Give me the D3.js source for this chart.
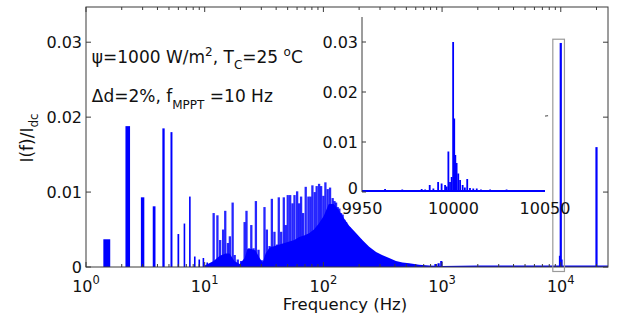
<!DOCTYPE html>
<html>
<head>
<meta charset="utf-8">
<script src="https://cdn.jsdelivr.net/npm/d3@7"></script>
<style>
  body { margin: 0; background: #fff; }
  svg { display: block; font-family: "DejaVu Sans", sans-serif; }
</style>
</head>
<body>
<div id="chart"></div>
<script>
// low frequency lines (Hz) and I(f)/Idc
let lowFreq = [1.5, 2.25, 3, 3.75, 4.5, 5.25, 6, 6.75, 7.5, 8.25, 9, 9.75, 10.5];
let lowAmp = [0.0037, 0.0188, 0.0093, 0.0081, 0.0185, 0.018, 0.0044, 0.0058, 0.0094, 0.0014, 0.001, 0.0012, 0.0006];

// the taller lines of the 10 - 200 Hz band
let spikeFreq = [11.9, 12.8, 13.5, 14.3, 14.9, 15.7, 16.3, 17.2, 17.9, 19.0, 20.3, 21.7, 22.5, 23.6, 24.7, 25.8, 27.0, 28.4, 30.3, 31.9, 33.4, 35.2, 36.8, 38.7, 40.8, 42.1, 44.1, 46.4, 48.2, 50.1, 52.5, 54.9, 57.1, 60.1, 62.5, 64.9, 67.5, 71.0, 74.8, 77.8, 80.8, 84.5, 87.8, 92.0, 95.7, 100, 104, 108.7, 113.8, 119.7, 124, 127.9, 132, 136.3, 141, 145.3, 150, 155.2, 160, 165.4, 171, 176.3, 190, 205];
let spikeAmp = [0.0072, 0.0069, 0.0036, 0.0050, 0.0075, 0.0032, 0.0041, 0.0086, 0.0016, 0.0010, 0.0008, 0.0060, 0.0075, 0.0025, 0.0056, 0.0025, 0.0088, 0.0023, 0.0009, 0.0080, 0.0050, 0.0028, 0.0091, 0.0047, 0.0030, 0.0093, 0.0047, 0.0093, 0.0056, 0.0096, 0.0096, 0.0085, 0.0096, 0.0101, 0.0085, 0.0094, 0.0072, 0.0107, 0.0094, 0.0094, 0.0109, 0.0100, 0.0108, 0.0111, 0.0108, 0.0095, 0.0113, 0.0104, 0.0106, 0.0092, 0.0088, 0.0086, 0.0080, 0.0078, 0.0072, 0.0070, 0.0063, 0.0060, 0.0054, 0.0053, 0.0048, 0.0046, 0.0042, 0.0037];

// dense floor of the spectrum (solid blue part)
let floorFreq = [10, 11.9, 13.4, 15, 16.2, 17.8, 19.7, 21.7, 22.9, 24.7, 26.8, 29, 30.8, 32.6, 35.2, 38.9, 42.7, 47, 51.7, 56.9, 62.6, 68.8, 75.7, 83.3, 91.6, 100.7, 111, 122, 136, 149, 165, 189, 213, 243, 278, 312, 358, 409, 464, 529, 640, 780, 1000, 2000, 5000, 25000];
let floorAmp = [0.0002, 0.0008, 0.0015, 0.0018, 0.0018, 0.0008, 0.0004, 0.0012, 0.0024, 0.0024, 0.0022, 0.0012, 0.0006, 0.0018, 0.0026, 0.0028, 0.0030, 0.0032, 0.0034, 0.0036, 0.0040, 0.0042, 0.0045, 0.0050, 0.0058, 0.0068, 0.0084, 0.0084, 0.0075, 0.0065, 0.0055, 0.0045, 0.0036, 0.0027, 0.0020, 0.0016, 0.0012, 0.0008, 0.0006, 0.0005, 0.0003, 0.0002, 0.00015, 0.0002, 0.0002, 0.0002];

// high frequency lines (switching ripple)
let hfFreq = [880, 935, 985, 9850, 10000, 10150, 20000];
let hfAmp = [0.0004, 0.0005, 0.0008, 0.0015, 0.0299, 0.001, 0.016];

// zoom around 10 kHz (inset)
let insetFreq = [9951, 9953.5, 9956, 9958, 9960.5, 9962.6, 9965, 9967.5, 9970, 9972, 9974.5, 9977, 9979.5, 9982.6, 9984.5, 9987, 9989, 9991.6, 9993.5, 9995.4, 9996.3, 9997.2, 9998.1, 9999, 9999.8, 10000.4, 10001, 10001.7, 10002.6, 10003.6, 10005, 10006.2, 10007.5, 10009, 10010.8, 10012.7, 10015, 10017.5, 10020, 10022.5, 10025, 10027, 10029, 10031.5, 10034, 10036.5, 10039, 10041.8, 10044, 10047, 10049];
let insetAmp = [0.0004, 0.0003, 0.0004, 0.0003, 0.0004, 0.0006, 0.0003, 0.0004, 0.0003, 0.0005, 0.0003, 0.0004, 0.0004, 0.0006, 0.0005, 0.0014, 0.0007, 0.002, 0.0017, 0.0014, 0.0011, 0.0081, 0.002, 0.003, 0.030, 0.0147, 0.0074, 0.0058, 0.0037, 0.0024, 0.0014, 0.0009, 0.0026, 0.0008, 0.0007, 0.0007, 0.0005, 0.0004, 0.0005, 0.0003, 0.0004, 0.0003, 0.0005, 0.0003, 0.0004, 0.0003, 0.0004, 0.0004, 0.0003, 0.0004, 0.0003];

let xTicks = [1, 10, 100, 1000, 10000];
let yTicks = [0, 0.01, 0.02, 0.03];
let insetXTicks = [9950, 10000, 10050];
let insetYTicks = [0, 0.01, 0.02, 0.03];

const blue = "#0000ff", axisCol = "#3a3a3a", textCol = "#111";

const w = 623, h = 322;
const svg = d3.select("#chart").append("svg").attr("width", w).attr("height", h);

const x = d3.scaleLog().domain([1, 25000]).range([86, 608]);
const y = d3.scaleLinear().domain([0, 0.0347]).range([267, 7]);

svg.append("clipPath").attr("id", "mainClip")
    .append("rect").attr("x", 86).attr("y", 7).attr("width", 522).attr("height", 260);

const plot = svg.append("g").attr("clip-path", "url(#mainClip)");

// bar of +-0.1 Hz, at least minW px wide
let barRect = (sel, f, a, minW) => {
    sel.attr("x", (d, i) => {
            let x0 = x(f[i] - 0.1), x1 = x(f[i] + 0.1);
            return x1 - x0 < minW ? x(f[i]) - minW / 2 : x0;
        })
        .attr("width", (d, i) => Math.max(x(f[i] + 0.1) - x(f[i] - 0.1), minW))
        .attr("y", (d, i) => y(a[i]))
        .attr("height", (d, i) => y(0) - y(a[i]))
        .attr("fill", blue);
};

// floor as a filled area
const floorArea = d3.area()
    .x((d, i) => x(floorFreq[i]))
    .y0(y(0))
    .y1((d, i) => y(floorAmp[i]));
plot.append("path").datum(floorFreq).attr("d", floorArea).attr("fill", blue);

plot.selectAll(".low").data(lowFreq).enter().append("rect").attr("class", "low")
    .call(barRect, lowFreq, lowAmp, 1.6);
plot.selectAll(".spike").data(spikeFreq).enter().append("rect").attr("class", "spike")
    .call(barRect, spikeFreq, spikeAmp, 2.3).attr("fill-opacity", 0.85);
plot.selectAll(".hf").data(hfFreq).enter().append("rect").attr("class", "hf")
    .call(barRect, hfFreq, hfAmp, 2.2);

// main axes box and ticks (inward, matlab style)
svg.append("rect").attr("x", 86).attr("y", 7).attr("width", 522).attr("height", 260)
    .attr("fill", "none").attr("stroke", axisCol).attr("stroke-width", 1);

let minor = [];
for (let dec = 1; dec <= 10000; dec *= 10) {
    for (let k = 2; k <= 9; k++) if (dec * k < 25000) minor.push(dec * k);
}
let tickG = svg.append("g").attr("stroke", axisCol).attr("stroke-width", 1);
xTicks.forEach(t => {
    tickG.append("line").attr("x1", x(t)).attr("x2", x(t)).attr("y1", 267).attr("y2", 262);
    tickG.append("line").attr("x1", x(t)).attr("x2", x(t)).attr("y1", 7).attr("y2", 12);
});
minor.forEach(t => {
    tickG.append("line").attr("x1", x(t)).attr("x2", x(t)).attr("y1", 267).attr("y2", 264);
    tickG.append("line").attr("x1", x(t)).attr("x2", x(t)).attr("y1", 7).attr("y2", 10);
});
yTicks.forEach(t => {
    tickG.append("line").attr("x1", 86).attr("x2", 91).attr("y1", y(t)).attr("y2", y(t));
    tickG.append("line").attr("x1", 608).attr("x2", 603).attr("y1", y(t)).attr("y2", y(t));
});

// tick labels
svg.selectAll(".ylab").data(yTicks).enter().append("text")
    .attr("x", 82).attr("y", d => y(d)).attr("dy", "0.36em")
    .attr("text-anchor", "end").attr("font-size", 16).attr("fill", textCol)
    .text(d => d === 0 ? "0" : d.toFixed(2));

xTicks.forEach(t => {
    let tx = svg.append("text").attr("x", x(t)).attr("y", 291.5)
        .attr("text-anchor", "middle").attr("font-size", 16).attr("fill", textCol);
    tx.append("tspan").text("10");
    tx.append("tspan").attr("dy", -8).attr("font-size", 11.5).text(Math.round(Math.log10(t)));
});

svg.append("text").attr("x", 345).attr("y", 310).attr("text-anchor", "middle")
    .attr("font-size", 16.5).attr("fill", textCol).text("Frequency (Hz)");

let yl = svg.append("text").attr("transform", "translate(33,138) rotate(-90)")
    .attr("text-anchor", "middle").attr("font-size", 17).attr("fill", textCol);
yl.append("tspan").text("I(f)/I");
yl.append("tspan").attr("dy", 5).attr("font-size", 12).text("dc");

// annotations
let t1 = svg.append("text").attr("x", x(1.12)).attr("y", y(0.0272))
    .attr("font-size", 17).attr("fill", textCol);
t1.append("tspan").text("\u03c8=1000 W/m");
t1.append("tspan").attr("dy", -7).attr("font-size", 12).text("2");
t1.append("tspan").attr("dy", 7).text(", T");
t1.append("tspan").attr("dy", 6).attr("font-size", 12).text("C");
t1.append("tspan").attr("dy", -6).text("=25 ");
t1.append("tspan").attr("dy", -7).attr("font-size", 12).text("o");
t1.append("tspan").attr("dy", 7).text("C");

let t2 = svg.append("text").attr("x", x(1.12)).attr("y", y(0.0220))
    .attr("font-size", 17).attr("fill", textCol);
t2.append("tspan").text("\u0394d=2%, f");
t2.append("tspan").attr("dy", 7).attr("font-size", 12).text("MPPT");
t2.append("tspan").attr("dy", -7).text(" =10 Hz");

// grey box around the 10 kHz line
svg.append("rect")
    .attr("x", x(8570)).attr("y", y(0.0304))
    .attr("width", x(10740) - x(8570)).attr("height", y(-0.0006) - y(0.0304))
    .attr("fill", "none").attr("stroke", "#9a9a9a").attr("stroke-width", 1.2);

// arrow from box to inset
let ax0 = x(7820), ay0 = y(0.0202), ax1 = x(1980), ay1 = y(0.0188);
let ang = Math.atan2(ay1 - ay0, ax1 - ax0);
svg.append("line").attr("x1", ax0).attr("y1", ay0).attr("x2", ax1).attr("y2", ay1)
    .attr("stroke", "#6e6e6e").attr("stroke-width", 1.2);
svg.append("path")
    .attr("d", "M" + (ax1 - 10 * Math.cos(ang - 0.35)) + "," + (ay1 - 10 * Math.sin(ang - 0.35)) +
        "L" + ax1 + "," + ay1 +
        "L" + (ax1 - 10 * Math.cos(ang + 0.35)) + "," + (ay1 - 10 * Math.sin(ang + 0.35)))
    .attr("fill", "none").attr("stroke", "#6e6e6e").attr("stroke-width", 1.2);

// ---- inset ----
const xi = d3.scaleLinear().domain([9950, 10050]).range([362, 545]);
const yi = d3.scaleLinear().domain([0, 0.035]).range([192, 17]);

const inset = svg.append("g");
inset.append("rect").attr("x", 362).attr("y", 17).attr("width", 183).attr("height", 175).attr("fill", "#fff");

inset.selectAll(".ib").data(insetFreq).enter().append("rect").attr("class", "ib")
    .attr("x", (d, i) => xi(insetFreq[i]) - 0.9)
    .attr("width", 1.8)
    .attr("y", (d, i) => yi(insetAmp[i]))
    .attr("height", (d, i) => yi(0) - yi(insetAmp[i]))
    .attr("fill", blue);
// blue baseline of the noise floor
inset.append("line").attr("x1", 362).attr("x2", 545).attr("y1", yi(0.0002)).attr("y2", yi(0.0002))
    .attr("stroke", blue).attr("stroke-width", 2);

inset.append("line").attr("x1", 362).attr("x2", 362).attr("y1", 17).attr("y2", 192)
    .attr("stroke", axisCol).attr("stroke-width", 1);
insetYTicks.forEach(t => {
    inset.append("line").attr("x1", 362).attr("x2", 366).attr("y1", yi(t)).attr("y2", yi(t))
        .attr("stroke", axisCol);
});
inset.selectAll(".iyl").data(insetYTicks).enter().append("text")
    .attr("x", 358).attr("y", d => yi(d)).attr("dy", d => d === 0 ? "0.1em" : "0.36em")
    .attr("text-anchor", "end").attr("font-size", 16).attr("fill", textCol)
    .text(d => d === 0 ? "0" : d.toFixed(2));
inset.selectAll(".ixl").data(insetXTicks).enter().append("text")
    .attr("x", d => xi(d)).attr("y", 214)
    .attr("text-anchor", "middle").attr("font-size", 16).attr("fill", textCol)
    .text(d => d);
</script>
</body>
</html>
